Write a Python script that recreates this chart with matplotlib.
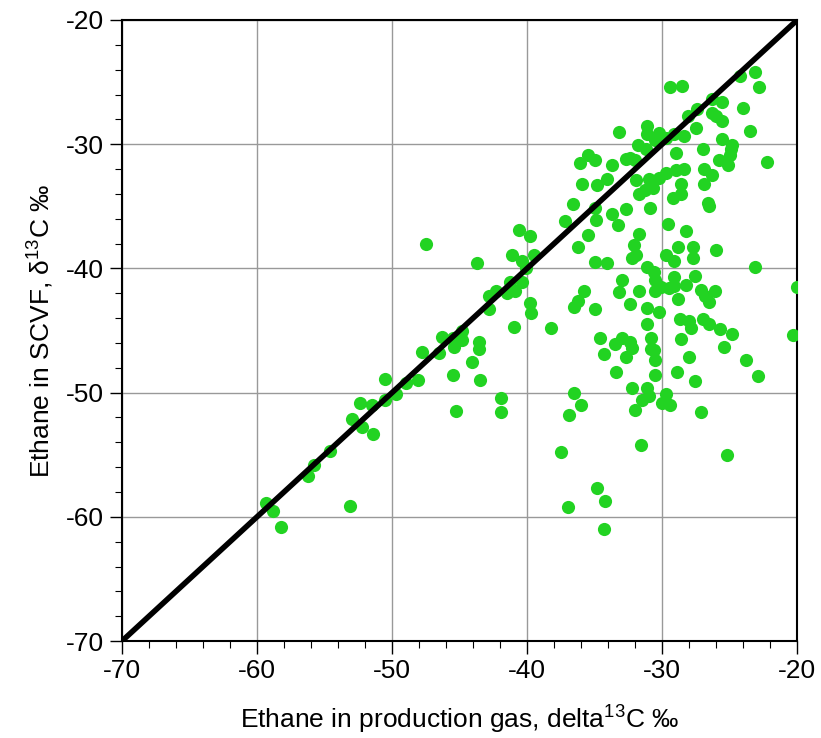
import matplotlib.pyplot as plt
from matplotlib.ticker import MultipleLocator

plt.rcParams['font.family'] = ['Liberation Sans Narrow', 'Liberation Sans', 'DejaVu Sans']
plt.rcParams['axes.unicode_minus'] = False

# puntos (produccion, SCVF)
prod = [-59.3, -58.8, -58.2, -56.2, -55.8, -54.6, -53.1, -53.0, -52.2, -51.4, -52.4, -51.5,
        -50.5, -49.7, -50.5, -49.0, -48.1, -47.8, -47.5, -46.5, -46.3, -45.5, -45.4, -45.5,
        -45.3, -44.8, -44.8, -44.1, -43.6, -43.6, -43.5, -43.7, -42.8, -42.8, -42.3, -41.5,
        -41.3, -40.9, -40.4, -41.0, -41.9, -41.9, -41.1, -40.4, -40.1, -39.5, -40.6, -39.8,
        -39.8, -39.7, -38.2,
        -36.0, -36.9, -32.0, -31.5, -30.0, -29.4, -27.1, -31.6, -25.2, -37.5, -34.8, -34.2,
        -37.0, -34.3,
        -35.5, -31.7, -28.2, -36.2, -32.1, -31.9, -32.2, -35.0, -34.1, -28.8, -27.7, -26.0,
        -29.7, -29.1, -27.7, -23.1, -31.1, -30.6, -30.5, -29.1, -29.1, -29.5, -30.1, -30.5,
        -28.2, -27.6, -33.0, -33.2, -31.7, -35.8, -36.2, -36.5, -35.0, -32.4, -31.1, -30.2,
        -28.8, -27.1, -26.8, -26.1, -26.5, -20.0, -31.1, -28.7, -28.0, -27.9, -27.0, -26.5,
        -25.7, -24.8, -20.3, -25.4, -34.6, -33.5, -33.0, -32.4, -32.2, -30.8, -30.8, -30.6,
        -28.6, -34.3, -32.7, -30.5, -28.0, -23.8, -22.9, -33.4, -30.5, -28.9, -27.6, -32.2,
        -31.1, -31.0, -29.7, -36.5,
        -29.4, -28.5, -23.1, -24.2, -22.8, -25.6, -26.3, -24.0, -27.4, -26.3, -26.0, -25.6,
        -28.1, -27.5, -23.5, -33.2, -31.1, -31.1, -30.2, -29.7, -29.1, -28.4, -30.5, -31.8,
        -31.2, -25.6, -24.8, -24.9, -27.0, -25.0, -25.1, -25.8, -22.2, -29.0, -26.9, -26.3,
        -26.9, -28.4, -29.0, -29.7, -30.2, -28.6, -28.6, -29.2, -31.0, -30.7, -31.3, -31.7,
        -31.9, -32.4, -32.0, -32.7, -33.7, -34.1, -34.8, -35.5, -35.0, -36.1, -35.9, -36.6,
        -37.2, -35.0, -33.7, -32.7, -33.3, -30.9, -29.6, -26.5, -34.9, -26.6]
scvf = [-58.9, -59.5, -60.8, -56.7, -55.8, -54.7, -59.1, -52.1, -52.8, -53.3, -50.8, -51.0,
        -50.6, -50.1, -48.9, -49.2, -49.0, -46.7, -38.0, -46.8, -45.5, -45.6, -46.3, -48.6,
        -51.5, -45.0, -45.8, -47.5, -45.9, -46.5, -49.0, -39.6, -43.3, -42.2, -41.8, -42.0,
        -41.1, -41.8, -41.1, -44.7, -50.4, -51.6, -38.9, -39.4, -40.0, -38.9, -36.9, -37.4,
        -42.8, -43.6, -44.8,
        -51.0, -51.8, -51.4, -50.6, -50.8, -51.0, -51.6, -54.2, -55.0, -54.8, -57.7, -58.7,
        -59.2, -61.0,
        -37.3, -37.2, -37.0, -38.3, -38.1, -38.9, -39.2, -39.5, -39.6, -38.3, -38.3, -38.5,
        -38.9, -39.4, -39.2, -39.9, -39.9, -40.3, -40.9, -40.7, -41.4, -41.6, -41.5, -41.8,
        -41.3, -40.6, -40.9, -41.9, -41.8, -41.8, -42.6, -43.1, -43.3, -42.9, -43.2, -43.5,
        -42.5, -41.7, -42.2, -41.8, -42.7, -41.5, -44.5, -44.1, -44.2, -44.8, -44.1, -44.5,
        -44.9, -45.3, -45.4, -46.3, -45.6, -46.1, -45.6, -45.9, -46.4, -45.6, -46.5, -46.6,
        -45.7, -46.9, -47.1, -47.4, -47.1, -47.4, -48.7, -48.3, -48.6, -48.3, -49.1, -49.6,
        -49.6, -50.3, -50.1, -50.0,
        -25.4, -25.3, -24.2, -24.5, -25.4, -26.6, -26.4, -27.1, -27.2, -27.5, -27.7, -28.1,
        -27.7, -28.7, -28.9, -29.0, -28.5, -29.2, -29.1, -29.5, -29.2, -29.3, -29.7, -30.1,
        -30.4, -29.6, -30.1, -30.4, -30.4, -30.9, -31.7, -31.3, -31.4, -30.7, -32.0, -32.5,
        -33.2, -32.0, -32.1, -32.3, -32.7, -33.2, -34.0, -34.3, -32.8, -33.5, -33.7, -34.0,
        -32.9, -31.1, -31.3, -31.2, -31.7, -32.8, -33.3, -30.9, -31.3, -31.5, -33.2, -34.8,
        -36.2, -35.1, -35.6, -35.2, -36.5, -35.1, -36.4, -35.0, -36.1, -34.7]

fig = plt.figure(figsize=(8.21, 7.38), dpi=100)
ax = fig.add_axes([0.1486, 0.1314, 0.8224, 0.8415])

ax.scatter(prod, scvf, s=90, color='#22d322', linewidths=0, zorder=3)
ax.plot([-70, -20], [-70, -20], color='black', lw=4, solid_capstyle='round', zorder=4)

ax.set_xlim(-70, -20)
ax.set_ylim(-70, -20)
ax.xaxis.set_major_locator(MultipleLocator(10))
ax.yaxis.set_major_locator(MultipleLocator(10))
ax.xaxis.set_minor_locator(MultipleLocator(2))
ax.yaxis.set_minor_locator(MultipleLocator(2))
ax.grid(True, which='major', color='#999999', lw=1, zorder=0)
ax.tick_params(which='major', direction='out', length=9, width=1, labelsize=19, pad=4)
ax.tick_params(which='minor', direction='out', length=5, width=0.8)
for s in ax.spines.values():
    s.set_linewidth(1.5)

ax.set_xlabel('Ethane in production gas, delta$^{\\mathregular{13}}$C ‰', fontsize=19, labelpad=14)
ax.set_ylabel('Ethane in SCVF, δ$^{\\mathregular{13}}$C ‰', fontsize=19, labelpad=8)

fig.savefig('out.png', dpi=100)
